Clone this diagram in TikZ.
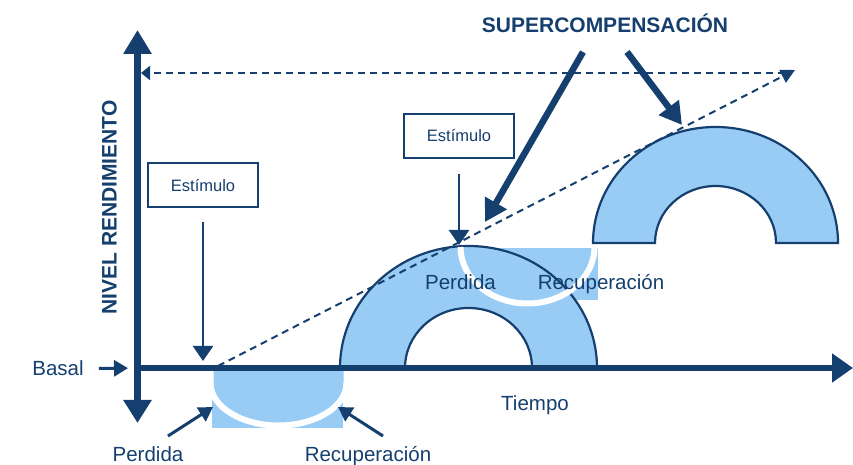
\documentclass[tikz,border=0pt]{standalone}
\usepackage{fontspec}
\setmainfont{Liberation Sans}
\usetikzlibrary{arrows.meta}
\definecolor{navy}{HTML}{153F6E}
\definecolor{sky}{HTML}{99CCF5}
\tikzset{
    AX/.style ={navy, line width=6.5pt, {Triangle[length=23pt,width=27pt]}-{Triangle[length=24pt,width=27pt]}},
    AH/.style ={navy, line width=6.5pt, -{Triangle[length=21pt,width=28pt]}},
    DS/.style ={navy, line width=2pt, dash pattern=on 7pt off 5pt},
    TH/.style ={navy, line width=6.5pt, -{Triangle[length=22pt,width=24pt]}},
    SA/.style ={navy, line width=2.5pt, -{Triangle[length=15pt,width=20pt]}},
    SB/.style ={navy, line width=3pt, -{Triangle[length=14pt,width=16pt]}},
    BX/.style ={draw=navy, line width=2pt, minimum width=110pt, minimum height=44pt, text=navy, font=\fontsize{16.5}{18}\selectfont},
    LB/.style ={text=navy, font=\fontsize{20.5}{22}\selectfont, anchor=base, inner sep=0pt},
    TT/.style ={text=navy, font=\fontsize{21}{23}\selectfont\bfseries, anchor=base, inner sep=0pt},
    AR/.style ={fill=sky, draw=navy, line width=2.2pt},
    WA/.style ={white, line width=6pt}}

\begin{document}
\begin{tikzpicture}[x=1pt,y=1pt]
        \useasboundingbox (0,0) rectangle (853,465);
        % loss and recovery below the base line
        \fill[sky] (212,37) rectangle (343,73);
        \fill[sky] (213.5,97) -- (213.5,82) arc[start angle=180,end angle=360,x radius=65,y radius=40] -- (343.5,97) -- cycle;
        \draw[WA] (210.5,82) arc[start angle=180,end angle=360,x radius=68,y radius=42.5];
        % loss and recovery on top of the first arch
        \fill[sky] (463,165) rectangle (598,217);
        \draw[AR] (340,97) arc[start angle=180,end angle=0,x radius=128.5,y radius=122] -- (532,97)
            arc[start angle=0,end angle=180,x radius=63.5,y radius=60] -- cycle;
        \draw[WA] (460.5,218) arc[start angle=180,end angle=360,x radius=67,y radius=56.5];
        \draw[AR] (593,222) arc[start angle=180,end angle=0,x radius=122.5,y radius=116] -- (776,222)
            arc[start angle=0,end angle=180,x radius=60.5,y radius=57] -- cycle;
        % points
        \coordinate (o) at (137.5,97);
        \coordinate (yb) at (137.5,42);
        \coordinate (yt) at (137.5,435);
        \coordinate (xl) at (134.25,97);
        \coordinate (xr) at (853,97);
        \coordinate (d0) at (218,99);
        \coordinate (d1) at (795,395);
        \coordinate (h0) at (785,392);
        \coordinate (h1) at (141,392);
        \coordinate (s1) at (203,104);
        \coordinate (s2) at (459,220);
        \coordinate (t1) at (583,413);
        \coordinate (p1) at (485,243);
        \coordinate (t2) at (627,413);
        \coordinate (p2) at (682,340);
        \coordinate (q1) at (168,29);
        \coordinate (r1) at (213,58);
        \coordinate (q2) at (383,29);
        \coordinate (r2) at (338,58);
        % dashed guides
        \draw[DS, -{Triangle[length=14pt,width=14pt]}] (d0) -- (d1);
        \draw[DS, -{Triangle[length=9pt,width=14pt]}] (h0) -- (h1);
        % axes
        \draw[AH] (xl) -- (xr);
        \draw[AX] (yb) -- (yt);
        % labels
        \node[BX] (e1) at (203,279.5){Estímulo};
        \node[BX] (e2) at (459,329){Estímulo};
        \node[LB] (b) at (58,89){Basal};
        \node[LB] (ti) at (535,54){Tiempo};
        \node[LB] (pb) at (148,3){Perdida};
        \node[LB] (rb) at (368,3){Recuperación};
        \node[LB] (pm) at (460.5,175){Perdida};
        \node[LB] (rm) at (601,175){Recuperación};
        \node[TT] (sc) at (605,432){SUPERCOMPENSACIÓN};
        \node[TT, rotate=90] (nr) at (116.5,257.5){NIVEL RENDIMIENTO};
        % arrows
        \draw[SA, shorten <=14pt] (e1) -- (s1);
        \draw[SA, shorten <=15pt] (e2) -- (s2);
        \draw[SB, shorten <=15pt, shorten >=9.5pt] (b.east) -- (o);
        \draw[SB] (q1) -- (r1);
        \draw[SB] (q2) -- (r2);
        \draw[TH] (t1) -- (p1);
        \draw[TH] (t2) -- (p2);
    \end{tikzpicture}
\end{document}
